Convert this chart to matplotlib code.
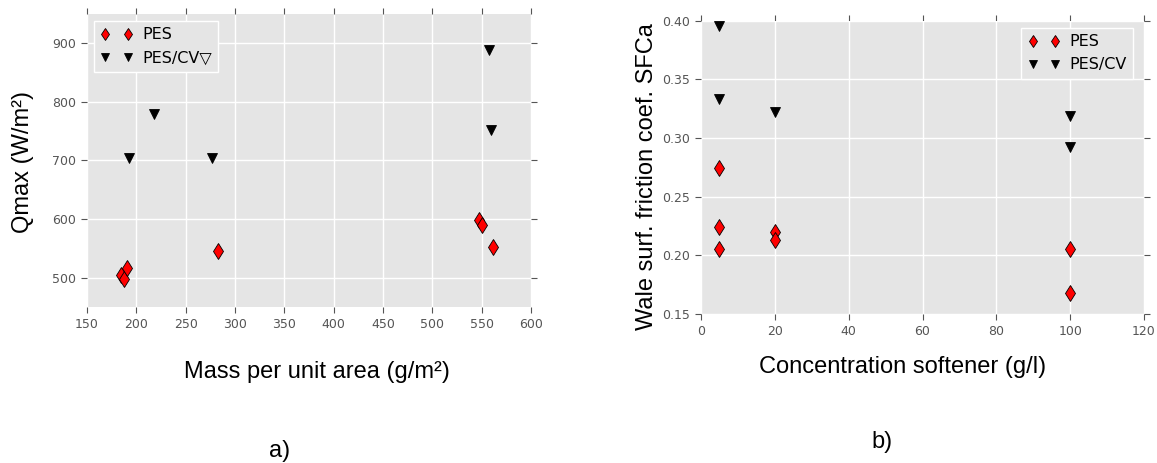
import matplotlib
matplotlib.use("Agg")
import matplotlib.pyplot as plt

# ---- data ----
a_pes_x = [184, 187, 191, 283, 547, 550, 561]
a_pes_y = [505, 498, 516, 545, 598, 589, 553]
a_cv_x = [193, 218, 277, 557, 559]
a_cv_y = [703, 779, 703, 888, 752]

b_pes_x = [5, 5, 5, 20, 20, 100, 100]
b_pes_y = [0.274, 0.224, 0.205, 0.220, 0.213, 0.205, 0.168]
b_cv_x = [5, 5, 20, 100, 100]
b_cv_y = [0.395, 0.333, 0.322, 0.319, 0.292]

a_xticks = [150, 200, 250, 300, 350, 400, 450, 500, 550, 600]
a_yticks = [500, 600, 700, 800, 900]
b_xticks = [0, 20, 40, 60, 80, 100, 120]
b_yticks = [0.15, 0.20, 0.25, 0.30, 0.35, 0.40]

W, H = 1157, 463
fig = plt.figure(figsize=(W / 100, H / 100), dpi=100)
fig.patch.set_facecolor("white")

LABEL_FONT = "Liberation Sans"
TICK_C = "#555555"


def style(ax):
    ax.set_facecolor("#E5E5E5")
    for s in ax.spines.values():
        s.set_visible(False)
    ax.grid(True, color="white", linewidth=1.0)
    ax.set_axisbelow(True)
    ax.tick_params(direction="out", length=4, width=0.8, color=TICK_C,
                   labelcolor=TICK_C, labelsize=9, top=True, right=True, pad=4)


def add_legend(ax, loc, anchor):
    leg = ax.legend(loc=loc, bbox_to_anchor=anchor, borderaxespad=0, numpoints=2,
                    fontsize=11.5, fancybox=False, facecolor="#E5E5E5",
                    edgecolor="white", framealpha=1, handlelength=2.0,
                    handletextpad=0.6, borderpad=0.4, markerscale=0.8)
    leg.get_frame().set_linewidth(1.0)
    return leg


# ---- panel a ----
ax1 = fig.add_axes([87 / W, 1 - 307 / H, 444 / W, 293.5 / H])
style(ax1)
ax1.plot(a_pes_x, a_pes_y, linestyle="none", marker="d", markersize=8,
         markerfacecolor="red", markeredgecolor="black", markeredgewidth=0.6,
         label="PES")
ax1.plot(a_cv_x, a_cv_y, linestyle="none", marker="v", markersize=7.5,
         markerfacecolor="black", markeredgecolor="black", markeredgewidth=0.6,
         label="PES/CV\u25bd")
ax1.set_xlim(150, 600)
ax1.set_ylim(450, 950)
ax1.set_xticks(a_xticks)
ax1.set_yticks(a_yticks)
add_legend(ax1, "upper left", ((94 - 87) / 444, (307 - 21) / 293.5))

# ---- panel b ----
ax2 = fig.add_axes([701 / W, 1 - 314 / H, 443 / W, 293.5 / H])
style(ax2)
ax2.plot(b_pes_x, b_pes_y, linestyle="none", marker="d", markersize=8,
         markerfacecolor="red", markeredgecolor="black", markeredgewidth=0.6,
         label="PES")
ax2.plot(b_cv_x, b_cv_y, linestyle="none", marker="v", markersize=7.5,
         markerfacecolor="black", markeredgecolor="black", markeredgewidth=0.6,
         label="PES/CV")
ax2.set_xlim(0, 120)
ax2.set_ylim(0.15, 0.40)
ax2.set_xticks(b_xticks)
ax2.set_yticks(b_yticks)
ax2.set_yticklabels([f"{v:.2f}" for v in b_yticks])
add_legend(ax2, "upper right", ((1133 - 701) / 443, (314 - 28) / 293.5))

# ---- labels ----
fs = 17
fig.text(317 / W, 1 - 378 / H, "Mass per unit area (g/m\u00b2)", ha="center", va="baseline",
         fontsize=fs, family=LABEL_FONT)
fig.text(903 / W, 1 - 373 / H, "Concentration softener (g/l)", ha="center", va="baseline",
         fontsize=fs, family=LABEL_FONT)
fig.text(23 / W, 1 - 162 / H, "Qmax (W/m\u00b2)", ha="center", va="center", rotation=90,
         fontsize=fs, family=LABEL_FONT)
fig.text(647 / W, 1 - 177 / H, "Wale surf. friction coef. SFCa", ha="center", va="center",
         rotation=90, fontsize=fs, family=LABEL_FONT)
fig.text(280 / W, 1 - 451 / H, "a)", ha="center", va="center", fontsize=fs, family=LABEL_FONT)
fig.text(882 / W, 1 - 442 / H, "b)", ha="center", va="center", fontsize=fs, family=LABEL_FONT)

fig.savefig("out.png", dpi=100, facecolor="white")
